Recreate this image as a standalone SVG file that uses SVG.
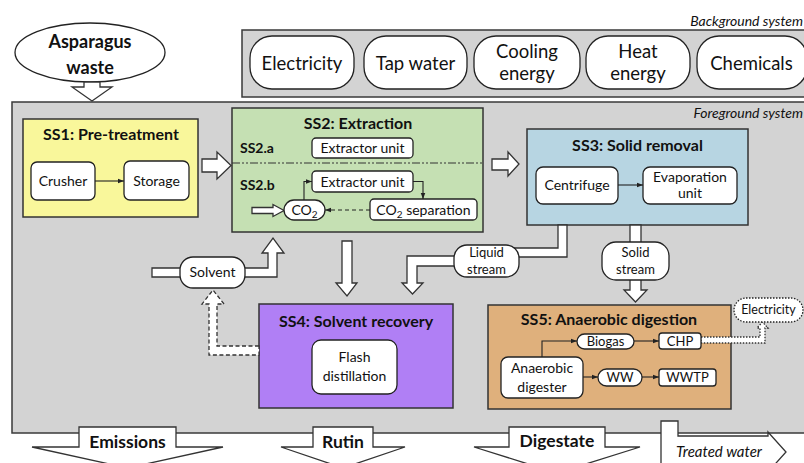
<svg xmlns="http://www.w3.org/2000/svg" width="804" height="463" viewBox="0 0 804 463">
<defs>
<marker id="ah" viewBox="0 0 8 8" refX="8" refY="4" markerWidth="6" markerHeight="6" orient="auto" markerUnits="userSpaceOnUse"><path d="M0,1 L8,4 L0,7 Z" fill="#222"/></marker>
<style>
text{font-family:Lato,"Liberation Sans",sans-serif;fill:#111}
.sys{fill:#d3d3d3;stroke:#3a3a3a;stroke-width:1.5}
.lbl{font-style:italic;font-size:14px;text-anchor:end}
.bg{fill:#fff;stroke:#222;stroke-width:1.3}
.bgt{font-size:18.5px;text-anchor:middle}
.ss{stroke:#333;stroke-width:1.5}
.tt{font-weight:bold;font-size:16px;text-anchor:middle}
.sub{font-weight:bold;font-size:14px}
.box{fill:#fff;stroke:#222;stroke-width:1.3}
.in{font-size:14px;text-anchor:middle}
.sm{font-size:13px;text-anchor:middle}
.ha{fill:#fff;stroke:#333;stroke-width:1.3;stroke-linejoin:miter}
.ln{fill:none;stroke:#222;stroke-width:1.1}
.out{font-weight:bold;font-size:17.5px;text-anchor:middle}
</style>
</defs>

<g id="background-system">
<rect class="sys" x="242" y="30" width="570" height="67"/>
<text class="lbl" x="803" y="26">Background system</text>
</g>
<g id="bg-electricity"><rect class="bg" x="250" y="36" width="104" height="53" rx="22"/><text class="bgt" x="302" y="70">Electricity</text></g>
<g id="bg-tapwater"><rect class="bg" x="364" y="36" width="103" height="53" rx="22"/><text class="bgt" x="415.5" y="70">Tap water</text></g>
<g id="bg-cooling"><rect class="bg" x="474" y="36" width="106" height="53" rx="22"/><text class="bgt" x="527" y="58">Cooling</text><text class="bgt" x="527" y="80">energy</text></g>
<g id="bg-heat"><rect class="bg" x="586" y="36" width="104" height="53" rx="22"/><text class="bgt" x="638" y="58">Heat</text><text class="bgt" x="638" y="80">energy</text></g>
<g id="bg-chemicals"><rect class="bg" x="697" y="36" width="110" height="53" rx="22"/><text class="bgt" x="751.5" y="70">Chemicals</text></g>

<g id="foreground-system">
<rect class="sys" x="12" y="102" width="800" height="331"/>
<text class="lbl" x="803" y="118">Foreground system</text>
</g>

<g id="asparagus-waste">
<ellipse cx="90" cy="52.5" rx="75" ry="29.5" fill="#fff" stroke="#222" stroke-width="1.3"/>
<text x="90" y="48" style="font-weight:bold;font-size:18px;text-anchor:middle">Asparagus</text>
<text x="90" y="74" style="font-weight:bold;font-size:18px;text-anchor:middle">waste</text>
</g>

<g id="ss1">
<rect class="ss" x="23" y="119" width="175" height="98" fill="#f9f79b"/>
<text class="tt" x="111" y="140">SS1: Pre-treatment</text>
</g>
<g id="ss2">
<rect class="ss" x="232" y="108" width="251" height="124" fill="#c5e0b3"/>
<text class="tt" x="358" y="129">SS2: Extraction</text>
<text class="sub" x="240" y="153">SS2.a</text>
<line x1="232" y1="163" x2="483" y2="163" stroke="#333" stroke-width="1" stroke-dasharray="8 2 2 2 2 2"/>
<text class="sub" x="240" y="190">SS2.b</text>
</g>
<g id="ss3">
<rect class="ss" x="527" y="129" width="221" height="96" fill="#b7d5e2"/>
<text class="tt" x="637.5" y="151">SS3: Solid removal</text>
</g>
<g id="ss4">
<rect class="ss" x="259" y="304" width="194" height="104" fill="#b07ff5"/>
<text class="tt" x="356" y="327">SS4: Solvent recovery</text>
</g>
<g id="ss5">
<rect class="ss" x="488" y="305" width="243" height="104" fill="#dfb07c"/>
<text class="tt" x="609" y="325">SS5: Anaerobic digestion</text>
</g>

<g id="connectors">
<polygon class="ha" points="84,82 100,82 100,87 112,87 92,101 72,87 84,87"/>
<polygon class="ha" points="202,159 217,159 217,152 231,165.5 217,179 217,172 202,172"/>
<polygon class="ha" points="492,159 508,159 508,152 519,164 508,176 508,170 492,170"/>
<line class="ln" x1="95" y1="181" x2="124" y2="181" marker-end="url(#ah)"/>
<path class="ln" d="M304,200 V181.5 H312" marker-end="url(#ah)"/>
<path class="ln" d="M413,181.5 H423 V199" marker-end="url(#ah)"/>
<line class="ln" x1="370" y1="210" x2="325" y2="210" stroke-dasharray="4 3" marker-end="url(#ah)"/>
<polygon class="ha" points="252,207.5 273,207.5 273,204.5 284,210.5 273,216.5 273,213.5 252,213.5"/>
<line class="ln" x1="618" y1="185" x2="643" y2="185" marker-end="url(#ah)"/>
<polygon class="ha" points="152,268 268,268 268,253 262,253 273,238 284,253 277,253 277,277 152,277"/>
<polygon class="ha" stroke-dasharray="4 2.5" points="259,346 217,346 217,304 224,304 213,290 202,304 209,304 209,355 259,355"/>
<polygon class="ha" points="342,241 352,241 352,283 357,283 347,296 336,283 342,283"/>
<polygon class="ha" points="558,225 567,225 567,257 485,257 485,266 417,266 417,283 423,283 412.5,294 402,283 407,283 407,256 485,256 485,248 558,248"/>
<polygon class="ha" points="630,225 641,225 641,290 647,290 635.5,302 624,290 630,290"/>
<path class="ln" d="M542,357 V341 H577" marker-end="url(#ah)"/>
<line class="ln" x1="634" y1="341" x2="659" y2="341" marker-end="url(#ah)"/>
<line class="ln" x1="583" y1="377" x2="598" y2="377" marker-end="url(#ah)"/>
<line class="ln" x1="642" y1="377" x2="659" y2="377" marker-end="url(#ah)"/>
<polygon class="ha" stroke-dasharray="1.5 1.5" points="701,337 760,337 760,328 757,328 762.5,322 768,328 765,328 765,343 701,343"/>
</g>

<g id="crusher"><rect class="box" x="31" y="162" width="64" height="38" rx="6"/><text class="in" x="63" y="186">Crusher</text></g>
<g id="storage"><rect class="box" x="124" y="161" width="65" height="39" rx="6"/><text class="in" x="156.5" y="186">Storage</text></g>
<g id="extractor-a"><rect class="box" x="312" y="138" width="101" height="20" rx="4"/><text class="in" x="362.5" y="153">Extractor unit</text></g>
<g id="extractor-b"><rect class="box" x="312" y="171" width="101" height="21" rx="4"/><text class="in" x="362.5" y="186.5">Extractor unit</text></g>
<g id="co2"><rect class="box" x="284" y="200" width="41" height="20" rx="10"/><text class="in" x="304.5" y="214.5">CO<tspan font-size="10" dy="3">2</tspan></text></g>
<g id="co2-separation"><rect class="box" x="370" y="199" width="107" height="21" rx="4"/><text class="in" x="423.5" y="214.5">CO<tspan font-size="10" dy="3">2</tspan><tspan dy="-3"> separation</tspan></text></g>
<g id="centrifuge"><rect class="box" x="536" y="167" width="82" height="37" rx="7"/><text class="in" x="577" y="190">Centrifuge</text></g>
<g id="evaporation"><rect class="box" x="643" y="167" width="94" height="37" rx="7"/><text class="in" x="690" y="182">Evaporation</text><text class="in" x="690" y="198">unit</text></g>
<g id="solvent"><rect class="box" x="180" y="257" width="65" height="31" rx="13"/><text class="in" x="212.5" y="277">Solvent</text></g>
<g id="liquid-stream"><rect class="box" x="454" y="245" width="65" height="32" rx="13"/><text class="sm" x="486.5" y="257">Liquid</text><text class="sm" x="486.5" y="274">stream</text></g>
<g id="solid-stream"><rect class="box" x="602" y="242" width="67" height="38" rx="14"/><text class="sm" x="635.5" y="257">Solid</text><text class="sm" x="635.5" y="274">stream</text></g>
<g id="flash-distillation"><rect class="box" x="312" y="340" width="85" height="54" rx="9"/><text class="in" x="354.5" y="362">Flash</text><text class="in" x="354.5" y="381">distillation</text></g>
<g id="biogas"><rect class="box" x="577" y="334" width="57" height="15" rx="7.5"/><text class="sm" x="605.5" y="346">Biogas</text></g>
<g id="chp"><rect class="box" x="659" y="333" width="42" height="16" rx="3"/><text class="sm" x="680" y="346">CHP</text></g>
<g id="anaerobic-digester"><rect class="box" x="501" y="357" width="82" height="41" rx="7"/><text class="in" x="542" y="373">Anaerobic</text><text class="in" x="542" y="392">digester</text></g>
<g id="ww"><rect class="box" x="598" y="369" width="44" height="17" rx="8.5"/><text class="sm" x="620" y="382">WW</text></g>
<g id="wwtp"><rect class="box" x="659" y="369" width="57" height="17" rx="3"/><text class="sm" x="687.5" y="382">WWTP</text></g>
<g id="electricity-out"><rect class="box" x="734" y="298" width="69" height="24" rx="12" stroke-dasharray="1.5 1.5"/><text x="768.5" y="314" style="font-size:12.5px;text-anchor:middle">Electricity</text></g>

<g id="emissions"><polygon class="ha" points="79,447 79,427 176,427 176,447 223,447 127.5,468 32,447"/><text class="out" x="127.5" y="448">Emissions</text></g>
<g id="rutin"><polygon class="ha" points="313,447 313,427 373,427 373,447 405,447 343,468 281,447"/><text class="out" x="343" y="448">Rutin</text></g>
<g id="digestate"><polygon class="ha" points="509,447 509,427 605,427 605,447 640,447 557,473 474,447"/><text class="out" x="557" y="447">Digestate</text></g>
<g id="treated-water"><polygon class="ha" points="661,421 678,421 678,436 768,436 768,432 786,452 768,472 661,472"/><text x="719" y="457" style="font-style:italic;font-size:15px;text-anchor:middle">Treated water</text></g>
</svg>
